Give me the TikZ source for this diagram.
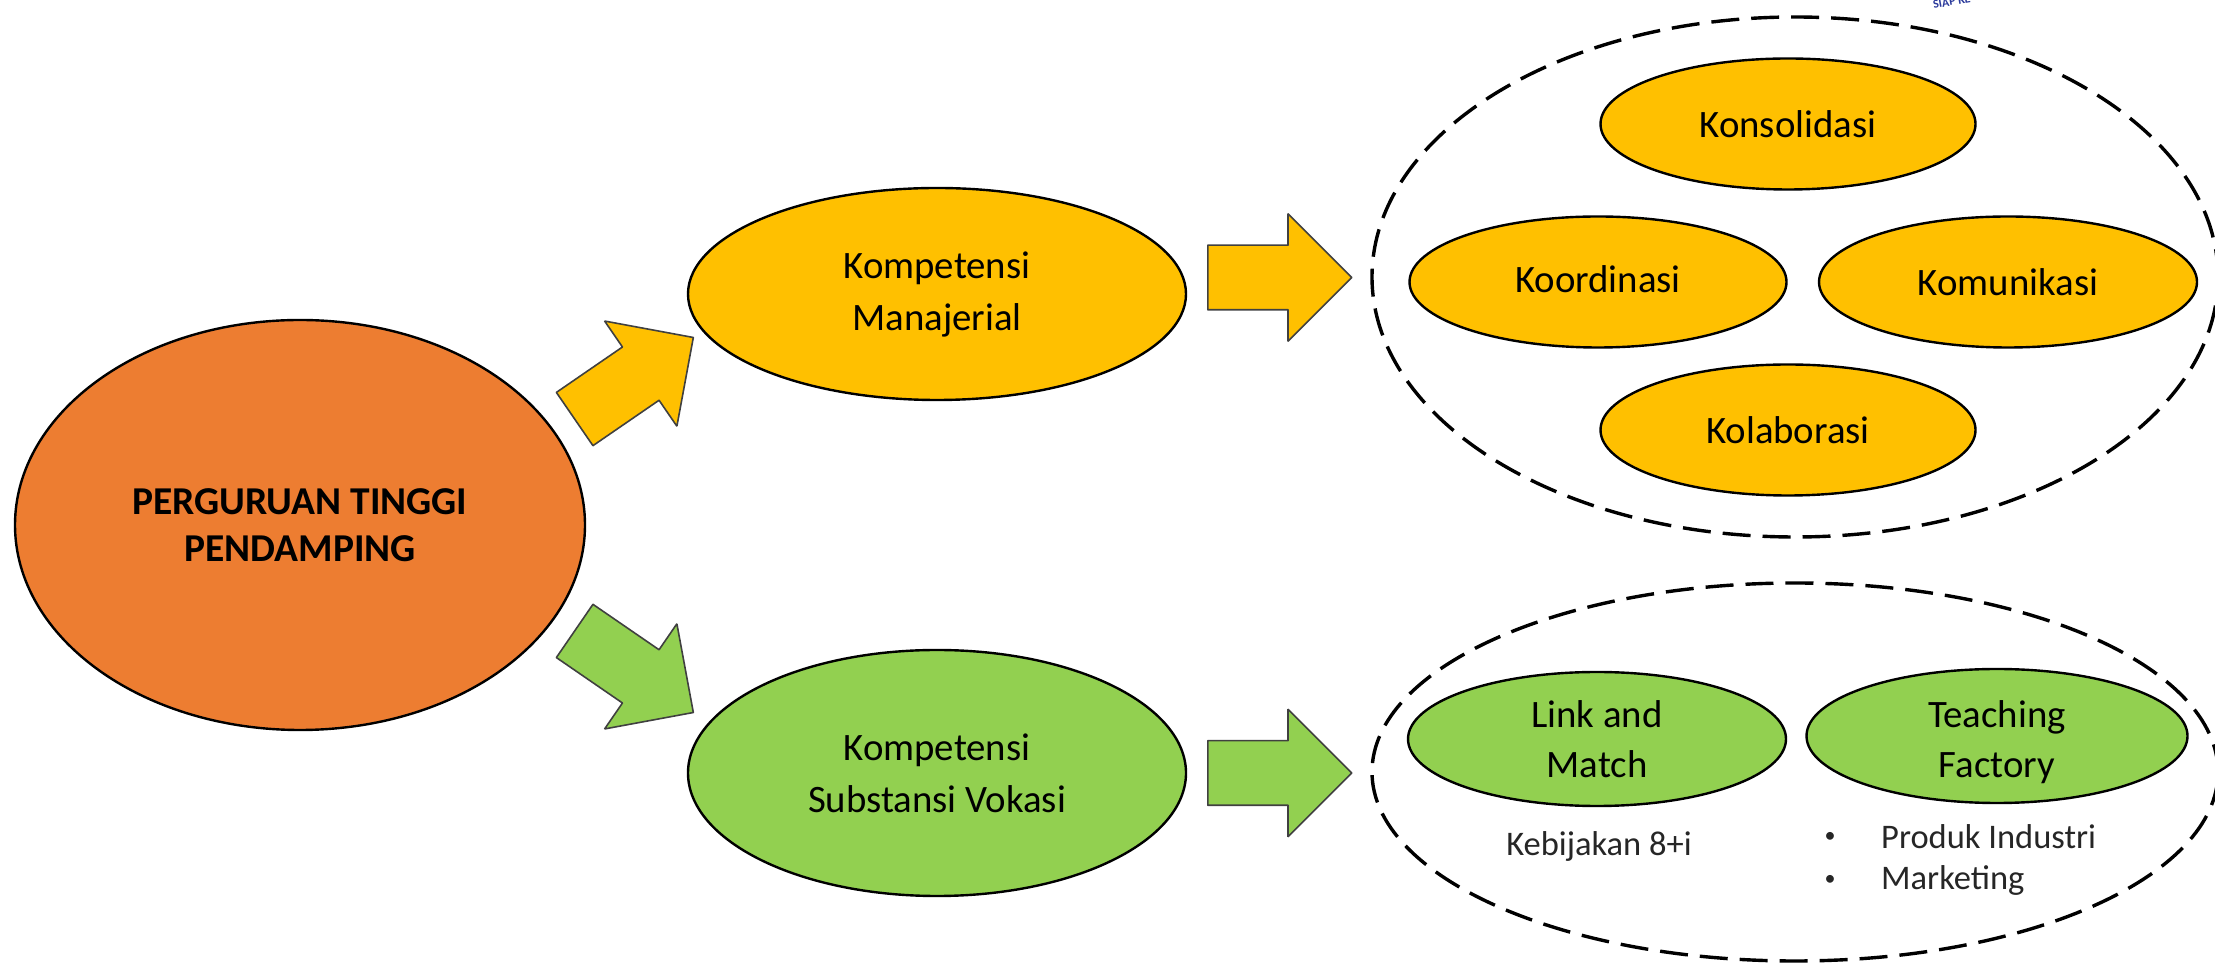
\documentclass[tikz,border=0pt]{standalone}
\usepackage{fontspec}
\setmainfont{Carlito}
\usetikzlibrary{shapes.geometric,shapes.arrows}
\definecolor{orangecol}{HTML}{ED7D31}
\definecolor{yellowcol}{HTML}{FFC000}
\definecolor{greencol}{HTML}{92D050}
\definecolor{bluecol}{HTML}{2B3A9B}
\newcommand{\shifttext}[2]{\raisebox{#1}[\height][\depth]{#2}}
\tikzset{
  bubble/.style={ellipse,draw=black,line width=2.4bp,inner sep=0pt,align=center,
    font=\fontsize{38.8bp}{50bp}\selectfont},
  group/.style={ellipse,draw=black,line width=3.4bp,inner sep=0pt,
    dash pattern=on 28bp off 12bp},
  block/.style={single arrow,draw=black!75,line width=1.6bp,inner xsep=0pt,inner ysep=31.5bp,anchor=tail,
    minimum width=126bp,minimum height=144bp,single arrow head extend=31.5bp,
    single arrow head indent=0pt},
  plain/.style={inner sep=0pt,font=\fontsize{34.5bp}{40bp}\selectfont,text=black!85},
  dot/.style={inner sep=0pt,font=\fontsize{22bp}{22bp}\selectfont,text=black!85},
}
\begin{document}
\begin{tikzpicture}[line join=bevel]
  \useasboundingbox (0bp,0bp) rectangle (2215bp,965bp);
  % Node: mark
  \node [inner sep=0pt,anchor=west,rotate=10,text=bluecol,font=\fontsize{12bp}{12bp}\selectfont\bfseries] (mark) at (1933bp,960bp) {SIAP KE};
  % Node: groupman
  \node [group,minimum width=846bp,minimum height=520bp] (groupman) at (1795bp,688bp) {};
  % Node: groupsub
  \node [group,minimum width=846bp,minimum height=378bp] (groupsub) at (1795bp,193bp) {};
  % Node: root
  \node [bubble,fill=orangecol,minimum width=570bp,minimum height=410bp,font=\fontsize{39.5bp}{47bp}\selectfont\bfseries] (root) at (300bp,440bp) {PERGURUAN TINGGI\\PENDAMPING};
  % Node: man
  \node [bubble,fill=yellowcol,minimum width=498bp,minimum height=212bp,font=\fontsize{38.8bp}{52bp}\selectfont] (man) at (937bp,671bp) {Kompetensi\\Manajerial};
  % Node: sub
  \node [bubble,fill=greencol,minimum width=498bp,minimum height=246bp,font=\fontsize{38.8bp}{52bp}\selectfont] (sub) at (937bp,192bp) {Kompetensi\\Substansi Vokasi};
  % Node: konsolidasi
  \node [bubble,fill=yellowcol,minimum width=375bp,minimum height=131bp] (konsolidasi) at (1788bp,841bp) {Konsolidasi};
  % Node: koordinasi
  \node [bubble,fill=yellowcol,minimum width=377bp,minimum height=131bp] (koordinasi) at (1598bp,683bp) {\shifttext{3bp}{Koordinasi}};
  % Node: komunikasi
  \node [bubble,fill=yellowcol,minimum width=378bp,minimum height=131bp] (komunikasi) at (2008bp,683bp) {Komunikasi};
  % Node: kolaborasi
  \node [bubble,fill=yellowcol,minimum width=375bp,minimum height=131bp] (kolaborasi) at (1788bp,535bp) {Kolaborasi};
  % Node: link
  \node [bubble,fill=greencol,minimum width=378bp,minimum height=134bp] (link) at (1597bp,226bp) {Link and\\Match};
  % Node: teaching
  \node [bubble,fill=greencol,minimum width=381bp,minimum height=134bp] (teaching) at (1997bp,229bp) {\shifttext{-6bp}{Teaching}\\\shifttext{-6bp}{Factory}};
  % Node: kebijakan
  \node [plain] (kebijakan) at (1599bp,119bp) {Kebijakan 8+i};
  % Node: produk
  \node [plain,anchor=west] (produk) at (1881bp,128bp) {Produk Industri};
  \node [dot] (dotproduk) at (1830bp,128bp) {•};
  % Node: marketing
  \node [plain,anchor=west] (marketing) at (1881bp,85bp) {Marketing};
  \node [dot] (dotmarketing) at (1830bp,85bp) {•};
  % Edge: root -> man
  \node [block,fill=yellowcol,rotate=34.5] (rootman) at (574bp,545.5bp) {};
  % Edge: root -> sub
  \node [block,fill=greencol,rotate=-34.5] (rootsub) at (574bp,334.5bp) {};
  % Edge: man -> groupman
  \node [block,fill=yellowcol] (mangroup) at (1207bp,687.5bp) {};
  % Edge: sub -> groupsub
  \node [block,fill=greencol] (subgroup) at (1207bp,192bp) {};
\end{tikzpicture}
\end{document}
